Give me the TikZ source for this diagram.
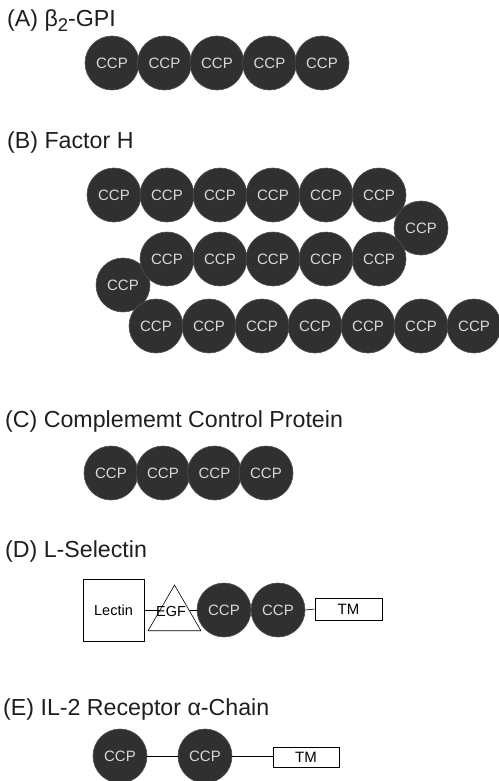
\documentclass[tikz,border=0pt]{standalone}
\usepackage{fontspec}
\setmainfont{Liberation Sans}
\usetikzlibrary{shapes.geometric}
\definecolor{ccpfill}{HTML}{303030}
\definecolor{ccpline}{HTML}{505050}
\definecolor{ccptext}{HTML}{D8D8D8}
\definecolor{titlecol}{HTML}{1E1E1E}
\tikzset{
  ccp/.style={circle, minimum size=54pt, inner sep=0pt, fill=ccpfill, draw=ccpline, line width=0.6pt,
    text=ccptext, font=\fontsize{15}{15}\selectfont},
  title/.style={anchor=base west, inner sep=0pt, text=titlecol, font=\fontsize{23.2}{25}\selectfont},
  plainbox/.style={draw=black, line width=0.6pt, fill=white, inner sep=0pt, font=\fontsize{14.5}{15}\selectfont},
  conn/.style={draw=black, line width=0.6pt}
}
\begin{document}
\begin{tikzpicture}[x=1pt, y=-1pt]
\useasboundingbox (0,0) rectangle (498,781);
% (A)
\node[title] (tA) at (7,27) {(A) β\raisebox{-5pt}{\fontsize{18.5}{18.5}\selectfont 2}-GPI};
\foreach \i/\x in {1/112,2/164.5,3/217,4/269.5,5/322}
  \node[ccp] (a\i) at (\x,63) {CCP};
% (B)
\node[title] (tB) at (7,148) {(B) Factor H};
\node[ccp] (bl) at (123,285) {CCP};
\foreach \i/\x in {1/156,2/209,3/262,4/315,5/368,6/421,7/474}
  \node[ccp] (bc\i) at (\x,326) {CCP};
\node[ccp] (br) at (421,228) {CCP};
\foreach \i/\x in {1/167,2/220,3/273,4/326,5/379}
  \node[ccp] (bb\i) at (\x,259) {CCP};
\foreach \i/\x in {1/114,2/167,3/220,4/273,5/326,6/379}
  \node[ccp] (ba\i) at (\x,195) {CCP};
% (C)
\node[title] (tC) at (5,427) {(C) Complememt Control Protein};
\foreach \i/\x in {1/111,2/163,3/214.5,4/266}
  \node[ccp] (c\i) at (\x,473) {CCP};
% (D)
\node[title] (tD) at (5,557) {(D) L-Selectin};
\node[plainbox, minimum width=61pt, minimum height=62pt] (lectin) at (113.5,610) {Lectin};
\node[ccp] (d1) at (224,610) {CCP};
\node[ccp] (d2) at (278,610) {CCP};
\node[plainbox, minimum width=67pt, minimum height=22pt, font=\fontsize{15}{15}\selectfont] (dtm) at (348.5,609) {TM};
\draw[conn] (lectin.east) -- (d1.west);
\draw[conn] (d2.east) -- (dtm.west);
\node[regular polygon, regular polygon sides=3, minimum size=61pt, inner sep=0pt, draw=black, line width=0.6pt, fill=white] (egf) at (174.5,615.5) {};
\node[inner sep=0pt, font=\fontsize{14.5}{15}\selectfont] (egft) at (171,612) {EGF};
% (E)
\node[title] (tE) at (3,715) {(E) IL-2 Receptor α-Chain};
\node[ccp] (e1) at (120,756) {CCP};
\node[ccp] (e2) at (205,756) {CCP};
\node[plainbox, minimum width=66pt, minimum height=20pt, font=\fontsize{15}{15}\selectfont] (etm) at (306,757) {TM};
\draw[conn] (e1.east) -- (e2.west);
\draw[conn] (e2.east) -- (etm.west |- e2.east);
\end{tikzpicture}
\end{document}
